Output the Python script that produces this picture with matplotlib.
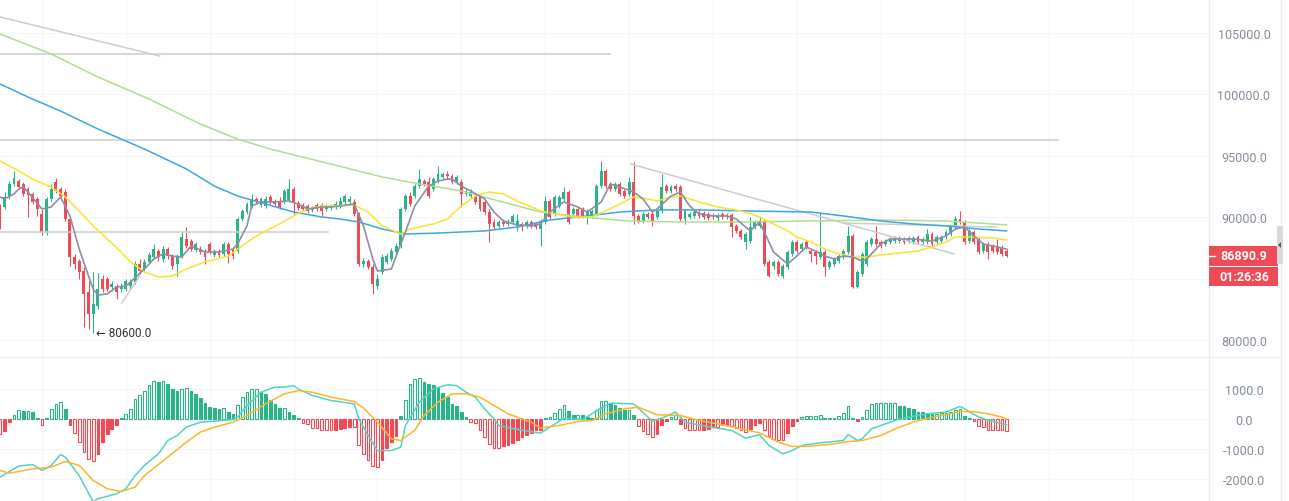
import numpy as np
import matplotlib.pyplot as plt
from matplotlib.patches import Rectangle, Polygon

# ---- candle data (index 0 = left-most, partly cut candle) ----
opens = [90840, 90840, 91730, 92710, 92950, 92710, 92300, 91900, 91490, 90270,
         88890, 91490, 92870, 92300, 92060, 89860, 86770, 86450, 85630, 83930,
         82140, 82790, 84980, 84980, 84330, 84420, 84170, 84170, 84420, 84740,
         86200, 85800, 86370, 86770, 87260, 86610, 87420, 86850, 86200, 86850,
         88240, 88070, 87340, 87420, 87260, 87830, 86940, 87260, 87020, 87830,
         87420, 87260, 89860, 90430, 90920, 91490, 91000, 90920, 91650, 91330,
         91250, 91250, 91410, 92300, 91170, 91000, 90920, 90600, 91000, 91000,
         90680, 90760, 90840, 90920, 91250, 91250, 91250, 90270, 86200, 86450,
         85960, 84420, 85550, 86370, 86610, 87180, 87670, 90680, 91730, 91730,
         92540, 92950, 92870, 92300, 92950, 93280, 93530, 93360, 92870, 92870,
         91900, 91730, 91730, 91730, 91250, 90430, 89620, 89300, 89620, 89460,
         89620, 89300, 89460, 89300, 89620, 89460, 89050, 89620, 91330, 90270,
         90920, 91490, 92060, 90270, 90680, 90680, 90030, 90110, 90270, 92540,
         93770, 92710, 92300, 92710, 92140, 91900, 92870, 90110, 89700, 90270,
         90270, 90030, 90520, 92540, 92140, 92540, 92460, 89860, 90030, 90110,
         90430, 90350, 90270, 90190, 89950, 90270, 90190, 90190, 89300, 88890,
         87990, 88070, 89210, 89300, 89700, 86370, 86040, 86370, 85230, 85960,
         87020, 87990, 87420, 87990, 87260, 87180, 86770, 87180, 85960, 86200,
         86450, 86770, 87180, 88480, 84330, 85390, 86200, 87830, 88240, 87990,
         87830, 87990, 88070, 88070, 88240, 88070, 87990, 88400, 87990, 87990,
         88640, 87990, 88070, 88400, 88640, 89210, 89860, 89620, 88070, 88810,
         88240, 87260, 87830, 87670, 87590, 87590, 87260]
highs = [91080, 92060, 92950, 93770, 93110, 92870, 92460, 92060, 91650, 90680,
         91650, 92710, 93200, 92460, 92300, 90030, 87020, 86610, 85960, 84820,
         85550, 85470, 85310, 85150, 84820, 84580, 84660, 84980, 84980, 86450,
         86610, 86610, 87180, 87830, 87420, 87670, 87590, 87020, 87020, 88890,
         89210, 88240, 87990, 87670, 87420, 87990, 87420, 87420, 87990, 87990,
         87590, 90030, 90680, 91250, 91900, 91650, 91650, 91730, 91810, 91490,
         91650, 92300, 93110, 92460, 91330, 91170, 91080, 90920, 91170, 91170,
         91080, 91080, 91330, 91650, 91900, 91730, 91490, 90430, 86690, 86610,
         86200, 85390, 87020, 87100, 87510, 87910, 90840, 91900, 92060, 92710,
         93930, 93110, 93280, 93280, 94170, 93690, 93770, 93530, 93440, 93110,
         92380, 92300, 91980, 91900, 91410, 90680, 89860, 89780, 89860, 89860,
         90270, 90270, 89620, 89780, 89780, 89620, 89860, 91730, 91490, 91810,
         91810, 92460, 92220, 90840, 90840, 90840, 90680, 90680, 92710, 94580,
         93930, 92870, 92870, 92870, 92300, 93280, 94500, 90270, 90430, 90430,
         90430, 90680, 93530, 92710, 92630, 92710, 92630, 90680, 90430, 90600,
         90600, 90520, 90430, 90350, 90350, 90430, 90350, 90350, 89460, 89050,
         88810, 90030, 89780, 90030, 89860, 86530, 86530, 86530, 86200, 87340,
         88160, 88160, 87990, 88160, 87420, 87340, 90430, 87340, 86530, 86770,
         87020, 87420, 89300, 88640, 85710, 87180, 88160, 88400, 89300, 88160,
         88240, 88400, 88480, 88480, 88400, 88480, 88480, 88560, 88400, 89050,
         88810, 88560, 88560, 88970, 89380, 90110, 90520, 89780, 89050, 88970,
         88400, 87990, 87990, 87830, 88240, 87750, 87420]
lows = [89050, 90680, 91490, 92540, 92300, 91730, 90030, 91080, 90110, 88560,
        88560, 91330, 91980, 91490, 89700, 86040, 85800, 84980, 81080, 80920,
        80600, 82540, 83930, 84010, 84010, 83360, 83930, 84010, 84170, 84580,
        85390, 85630, 86200, 86610, 86450, 86370, 86610, 85800, 85230, 86690,
        87510, 87260, 87180, 87020, 86200, 87020, 86770, 86770, 86850, 86280,
        86610, 87100, 89700, 90270, 90760, 91080, 90840, 90760, 91080, 90920,
        90680, 91080, 91250, 90270, 90600, 90520, 90350, 90430, 90520, 90110,
        90520, 90600, 90680, 90760, 91080, 91080, 90110, 86040, 85960, 85800,
        83770, 84170, 85390, 86200, 86450, 87020, 87510, 90520, 90920, 91570,
        92380, 92540, 91570, 92140, 92790, 93110, 93110, 92710, 92710, 90840,
        91730, 91570, 91080, 90520, 90270, 87990, 89050, 89130, 89300, 89300,
        89460, 88890, 88890, 89130, 89130, 89050, 87670, 89460, 89860, 90110,
        90760, 91330, 89460, 90110, 89950, 89950, 89460, 89950, 90110, 92380,
        92380, 92140, 92140, 91730, 91570, 91730, 89460, 89540, 89540, 89860,
        89300, 89860, 90350, 91980, 91980, 92140, 89700, 89460, 89860, 89950,
        89950, 89860, 89780, 89860, 89700, 89860, 89860, 88400, 88730, 88240,
        87420, 87910, 89050, 89130, 86040, 85150, 85800, 85230, 85070, 85800,
        86850, 87100, 87260, 87420, 86370, 86200, 86610, 85230, 85800, 86040,
        86280, 86610, 87020, 84250, 84250, 85230, 86040, 87670, 87670, 87510,
        87670, 87830, 87910, 87910, 87830, 87910, 87830, 87830, 87830, 87830,
        87670, 87830, 87910, 88240, 88480, 89050, 89460, 87830, 87910, 87830,
        87020, 87100, 86610, 87100, 87020, 86850, 86770]
closes = [89460, 91650, 92710, 93200, 92460, 91900, 91810, 91250, 90680, 88810,
          91490, 92300, 92140, 91730, 89860, 86770, 86200, 85550, 83770, 82140,
          82950, 84170, 84170, 84170, 84580, 83930, 84420, 84820, 84740, 86200,
          85630, 86370, 86940, 87420, 86770, 87420, 86850, 86040, 86850, 88400,
          87670, 87420, 87830, 87180, 86770, 87180, 87260, 86940, 87830, 87020,
          86850, 89860, 90520, 91080, 91490, 91250, 91490, 91490, 91330, 91080,
          90840, 92140, 92300, 91250, 90760, 90680, 90520, 90760, 90680, 90520,
          90920, 90920, 91080, 91330, 91730, 91490, 90270, 86200, 86450, 85960,
          84580, 84980, 86770, 86850, 87260, 87670, 90680, 91730, 91080, 92540,
          93110, 92710, 91730, 93110, 93530, 93530, 93360, 92870, 93280, 91900,
          92140, 92060, 91250, 90680, 90430, 89460, 89210, 89620, 89460, 89700,
          90110, 89700, 89210, 89620, 89300, 89210, 89700, 91330, 90030, 91650,
          91650, 92060, 89620, 90680, 90110, 90110, 90520, 90520, 92540, 93770,
          92540, 92300, 92710, 91900, 91730, 92870, 90110, 89700, 90270, 90030,
          89700, 90520, 92460, 92140, 92460, 92300, 89860, 90520, 90270, 90430,
          90110, 90030, 89950, 90030, 90190, 90030, 90030, 89210, 88890, 88400,
          88640, 89210, 89620, 89700, 86200, 85230, 86370, 85390, 86040, 87180,
          87990, 87260, 87830, 87590, 87020, 86850, 87180, 85960, 86370, 86610,
          86850, 87260, 88480, 84330, 85550, 87020, 87990, 88240, 87830, 87670,
          88070, 88240, 88320, 88320, 87990, 88320, 88320, 87990, 88240, 88640,
          87830, 88400, 88400, 88810, 89210, 89860, 89620, 87990, 88890, 87990,
          87180, 87830, 87180, 87260, 87180, 87020, 86890.9]

# ---- moving averages (candle index, price) ----
ma_gray_idx = [0, 1, 3, 4, 5, 6, 9, 11, 13, 15, 17, 19, 20, 21, 23, 25, 27, 28, 31, 33,
               35, 37, 39, 41, 44, 47, 50, 51, 53, 54, 56, 59, 62, 64, 66, 69, 71, 73, 76, 78,
               80, 81, 84, 85, 87, 89, 92, 94, 96, 97, 99, 101, 104, 106, 108, 111, 114, 116, 118, 121,
               124, 126, 129, 131, 133, 136, 138, 140, 141, 144, 146, 148, 150, 153, 156, 158, 161, 163, 164, 166,
               169, 171, 173, 175, 177, 179, 181, 183, 185, 186, 189, 191, 196, 200, 203, 205, 207, 209, 211, 214,
               216]
ma_gray = [91650, 91490, 91900, 92300, 92460, 92060, 90680, 90840, 91650, 90110,
           87420, 85230, 84170, 83680, 83770, 84330, 84420, 84740, 85800, 86610,
           87020, 86850, 86770, 87670, 87180, 87180, 87420, 87830, 89300, 90920,
           91250, 91250, 91330, 91080, 90680, 90840, 90840, 90920, 91080, 89300,
           86610, 85630, 85800, 86850, 88810, 90920, 92540, 92950, 93110, 93110,
           92540, 92140, 91490, 90430, 89700, 89380, 89300, 89460, 90430, 91250,
           90840, 90430, 91250, 92710, 92460, 92060, 91490, 90430, 90680, 91730,
           92060, 90920, 90270, 90110, 90110, 89860, 88890, 89620, 88810, 87180,
           86200, 86850, 87590, 87260, 86850, 86610, 86850, 86770, 86450, 86610,
           87830, 88240, 88240, 88070, 88480, 89050, 89210, 88480, 87830, 87590,
           87420]
ma_yel_idx = [0, 4, 7, 11, 14, 17, 20, 23, 26, 28, 31, 34, 37, 40, 44, 49, 51, 54, 57, 60,
              63, 66, 69, 71, 76, 79, 82, 86, 88, 93, 96, 99, 102, 105, 108, 111, 116, 119, 123, 127,
              130, 133, 136, 139, 141, 144, 146, 148, 150, 154, 159, 163, 166, 169, 171, 174, 177, 180, 183, 186,
              189, 193, 197, 200, 203, 205, 208, 213, 216]
ma_yel = [94580, 93770, 93110, 92460, 91650, 90520, 89300, 88240, 87180, 86370,
          85550, 85150, 85230, 85800, 86370, 86850, 87420, 88240, 88890, 89460,
          90110, 90680, 90920, 90920, 91000, 90430, 89300, 88640, 89050, 89460,
          89860, 90920, 91730, 92060, 91900, 91330, 90520, 90270, 90030, 90030,
          90520, 91080, 91650, 91490, 91330, 91650, 91730, 91490, 91250, 90840,
          90520, 90030, 89460, 88890, 88400, 87990, 87420, 87020, 86770, 86770,
          86940, 87100, 87260, 87590, 87990, 88400, 88400, 88320, 88160]
ma_blue_idx = [0, 6, 13, 21, 31, 40, 46, 51, 57, 63, 69, 73, 77, 82, 87, 94, 104, 111, 118, 126,
               133, 141, 150, 160, 174, 181, 189, 196, 203, 210, 216]
ma_blue = [100840, 99780, 98640, 97180, 95550, 93930, 92540, 91730, 91080, 90430,
           90030, 89860, 89620, 89050, 88640, 88720, 88890, 89210, 89780, 90110,
           90430, 90600, 90600, 90520, 90430, 90110, 89700, 89460, 89300, 89050, 88890]
ma_lgreen_idx = [0, 11, 21, 32, 43, 51, 58, 71, 82, 90, 99, 107, 116, 127, 135, 146, 160, 174, 189, 203, 216]
ma_lgreen = [104900, 103280, 101410, 99620, 97580, 96360, 95550, 94330, 93280, 92710,
             92140, 91330, 90430, 89950, 89700, 89620, 89620, 89700, 89780, 89700, 89380]

# drawn trend lines: (start index, start price, end index, end price)
trend_lines = [(0, 106290, 34.3, 103110),
               (0, 103270, 131, 103270),
               (0, 96290, 227, 96290),
               (0, 88830, 70.4, 88830),
               (26.1, 83030, 30.0, 85230),
               (135.4, 94330, 204.8, 87020),
               (181, 89540, 213.8, 89210)]

# ---- MACD ----
hist = [-478, -400, -90, 155, 300, 280, 280, 245, 45, -200,
        45, 355, 520, 580, 355, -180, -445, -735, -1070, -1330,
        -1400, -1145, -755, -478, -310, -180, 45, 190, 355, 670,
        820, 965, 1155, 1280, 1245, 1280, 1190, 1020, 935, 1020,
        1045, 935, 855, 710, 545, 410, 380, 335, 380, 245,
        190, 490, 745, 910, 1000, 1000, 910, 855, 635, 520,
        380, 380, 245, 155, 45, -110, -145, -290, -290, -345,
        -365, -365, -345, -310, -290, -255, -255, -845, -1145, -1365,
        -1535, -1590, -1365, -955, -755, -535, 110, 635, 1190, 1335,
        1380, 1245, 1190, 1135, 1080, 890, 745, 520, 465, 265,
        80, -90, -110, -335, -590, -810, -955, -955, -890, -845,
        -780, -670, -590, -510, -445, -365, -345, 45, 80, 220,
        355, 490, 290, 155, 155, 135, 80, 45, 320, 610,
        610, 555, 490, 380, 300, 300, 155, -220, -400, -478,
        -590, -490, -200, -65, 80, 155, -145, -290, -365, -365,
        -365, -335, -310, -255, -255, -200, -180, -220, -290, -365,
        -420, -310, -180, -110, -335, -535, -645, -670, -700, -445,
        -220, -45, 80, 100, 100, 100, 135, 45, 45, 45,
        110, 220, 445, 45, -35, 80, 300, 520, 545, 545,
        545, 545, 545, 465, 445, 380, 335, 265, 245, 220,
        190, 190, 210, 220, 265, 300, 335, 110, 45, -65,
        -220, -255, -335, -335, -335, -335, -400]
dif_idx = [0, 4, 7, 9, 11, 13, 14, 17, 20, 21, 25, 27, 29, 31, 34, 36, 38, 40, 43, 46,
           50, 51, 53, 56, 59, 61, 63, 64, 67, 71, 76, 77, 79, 81, 84, 86, 87, 90, 93, 96,
           98, 100, 102, 104, 106, 107, 111, 116, 118, 121, 125, 129, 131, 136, 140, 142, 145, 147, 150, 154,
           157, 160, 163, 165, 168, 170, 172, 176, 181, 182, 184, 185, 187, 190, 193, 197, 200, 203, 206, 207,
           210, 213, 216]
dif = [-1920, -1555, -1500, -1700, -1530, -1165, -1255, -1870, -2750, -2640,
       -2480, -2310, -1870, -1530, -1145, -700, -535, -255, -90, -55,
       0, 80, 465, 910, 1080, 1080, 1130, 1020, 800, 635,
       520, 20, -535, -1035, -1035, -920, -200, 580, 1020, 1155,
       1130, 910, 745, 355, 20, -200, -330, -455, -255, 45,
       0, 380, 545, 520, -55, 45, 245, -90, -180, -290,
       -365, -620, -510, -865, -1145, -1035, -865, -780, -700, -500,
       -700, -645, -310, -145, 20, 135, 210, 245, 435, 355,
       80, -65, -180]
dea_idx = [0, 2, 7, 11, 14, 17, 20, 23, 26, 29, 31, 36, 40, 43, 46, 50, 53, 57, 61, 64,
           67, 71, 76, 78, 81, 84, 86, 89, 91, 94, 97, 100, 103, 106, 109, 114, 116, 120, 124, 127,
           130, 134, 137, 141, 146, 150, 154, 159, 163, 167, 170, 174, 179, 182, 185, 189, 193, 197, 201, 206,
           209, 212, 215, 216]
dea = [-1700, -1790, -1645, -1590, -1400, -1530, -2030, -2310, -2400, -2255,
       -1870, -1255, -755, -420, -255, -90, 135, 520, 855, 965,
       910, 745, 600, 380, -90, -645, -700, -365, 135, 580,
       855, 855, 745, 465, 190, -90, -290, -200, -65, -35,
       190, 355, 410, 155, 135, -35, -145, -310, -445, -755,
       -900, -890, -810, -735, -700, -535, -255, -35, 100, 265,
       265, 190, 80, 0]

price_grid = [80000, 85000, 90000, 95000, 100000, 105000]
price_labels = [80000, 90000, 95000, 100000, 105000]   # 85000 sits under the price tags
macd_ticks = [-2000, -1000, 0, 1000]
last_price = '86890.9'
countdown = '01:26:36'
low_text = '\u2190 80600.0'

GREEN = '#2bb38a'
RED = '#ef4b57'
GRID = '#f5f5f5'
LABEL = '#848e9c'
FONT = ['Roboto', 'DejaVu Sans']

W, H = 1289, 502
fig = plt.figure(figsize=(W / 100, H / 100), dpi=100)
fig.patch.set_facecolor('white')
axw = 1209 / W
ax = fig.add_axes([0, 144 / H, axw, 358 / H])
ax2 = fig.add_axes([0, 0, axw, 144 / H])

xmax = 1209 / 4.66
grid_x = np.arange(9, 260, 18)
for a in (ax, ax2):
    a.set_xlim(0, xmax)
    for s in a.spines.values():
        s.set_visible(False)
    a.set_xticks([])
    for gx in grid_x:
        a.axvline(gx, color=GRID, lw=0.8, zorder=0)
    a.yaxis.tick_right()
    a.tick_params(axis='y', length=0, pad=25.2, labelsize=9, labelcolor=LABEL)

# main panel
ax.set_ylim(78643, 107748)
ax.set_yticks(price_labels)
ax.set_yticklabels([f'{v:.1f}' for v in price_labels])
for v in price_grid:
    ax.axhline(v, color=GRID, lw=0.8, zorder=0)

o = np.array(opens)
c = np.array(closes)
hi = np.array(highs)
lo = np.array(lows)
x = np.arange(len(o))
col = np.where(c >= o, GREEN, RED)
ax.vlines(x, lo, hi, colors=col, lw=0.8, zorder=2)
ax.bar(x, np.maximum(np.abs(c - o), 70), bottom=np.minimum(o, c), width=0.62,
       color=col, lw=0, zorder=2)

for (i0, p0, i1, p1) in trend_lines:
    ax.plot([i0, i1], [p0, p1], color='#cdcdcd', lw=1.1, zorder=3)

ax.plot(ma_lgreen_idx, ma_lgreen, color='#b0dd93', lw=1.1, zorder=4)
ax.plot(ma_blue_idx, ma_blue, color='#3ea6e0', lw=1.1, zorder=4)
ax.plot(ma_yel_idx, ma_yel, color='#f6e433', lw=1.1, zorder=4)
ax.plot(ma_gray_idx, ma_gray, color='#8c8fa6', lw=1.2, zorder=5)

ax.text(96 / 4.66, 80600, low_text, fontsize=8.5, color='#333333', family=FONT,
        ha='left', va='center', zorder=6)

for lab in ax.get_yticklabels():
    lab.set_ha('center')
    lab.set_family(FONT)

# MACD panel
ax2.set_ylim(-2717, 2083)
ax2.set_yticks(macd_ticks)
ax2.set_yticklabels([f'{v:.1f}' for v in macd_ticks])
for v in macd_ticks:
    ax2.axhline(v, color=GRID, lw=0.8, zorder=0)
for lab in ax2.get_yticklabels():
    lab.set_ha('center')
    lab.set_family(FONT)

hv = np.array(hist, dtype=float)
prev = np.r_[0.0, hv[:-1]]
grow = np.abs(hv) >= np.abs(prev)
hcol = np.where(hv >= 0, GREEN, RED)
faces = ['#ffffff' if g else cc for g, cc in zip(grow, hcol)]
ax2.bar(x, hv, width=0.58, color=faces, edgecolor=hcol, lw=0.8, zorder=2)
ax2.plot(dif_idx, dif, color='#4fd4c2', lw=1.1, zorder=3)
ax2.plot(dea_idx, dea, color='#fdb52b', lw=1.1, zorder=3)

# frame lines
fig.add_artist(plt.Line2D([axw, axw], [0, 1], color='#ececec', lw=0.8))
fig.add_artist(plt.Line2D([0, 1280 / W], [144 / H, 144 / H], color='#ececec', lw=0.8))
fig.add_artist(plt.Line2D([1281 / W, 1281 / W], [0, 1], color='#ececec', lw=0.8))

# last price and countdown tags
def fy(py):
    return 1 - py / H

fig.add_artist(Rectangle((1209 / W, fy(267)), 69 / W, 20 / H, color=RED, lw=0, zorder=10))
fig.add_artist(Rectangle((1209 / W, fy(287)), 69 / W, 19 / H, color=RED, lw=0, zorder=10))
fig.add_artist(plt.Line2D([1209 / W, 1215 / W], [fy(257), fy(257)], color='white', lw=1, zorder=11))
fig.text(1244 / W, fy(257), last_price, color='white', fontsize=9, fontweight='bold',
         family=FONT, ha='center', va='center', zorder=12)
fig.text(1244 / W, fy(277.5), countdown, color='white', fontsize=9, fontweight='bold',
         family=FONT, ha='center', va='center', zorder=12)

# collapse tab on the right edge
fig.add_artist(Rectangle((1277 / W, fy(265)), 6 / W, 38 / H, color='#d9d9d9', lw=0, zorder=10))
fig.add_artist(Polygon([(1278 / W, fy(246)), (1281 / W, fy(243)), (1281 / W, fy(249))],
                       closed=True, color='#555555', lw=0, zorder=11))

fig.savefig('out.png', dpi=100)
